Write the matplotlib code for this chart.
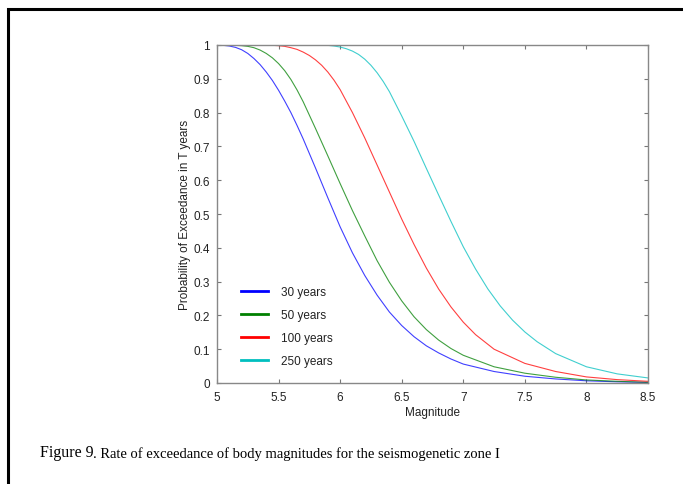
import matplotlib.pyplot as plt
from matplotlib.patches import Rectangle

# values (magnitude -> probability of exceedance)
mag_30 = [5.0, 5.05, 5.1, 5.15, 5.2, 5.25, 5.3, 5.35, 5.4, 5.45, 5.5, 5.55, 5.6,
          5.65, 5.7, 5.8, 5.9, 6.0, 6.1, 6.2, 6.3, 6.4, 6.5, 6.6, 6.7, 6.8, 6.9,
          7.0, 7.25, 7.5, 7.75, 8.0, 8.25, 8.5]
prob_30 = [1.0, 0.999, 0.997, 0.993, 0.986, 0.975, 0.96, 0.942, 0.92, 0.895,
           0.866, 0.834, 0.80, 0.762, 0.722, 0.636, 0.548, 0.462, 0.385, 0.318,
           0.26, 0.21, 0.17, 0.137, 0.11, 0.089, 0.071, 0.056, 0.034, 0.02,
           0.012, 0.0065, 0.0035, 0.0015]

mag_50 = [5.0, 5.1, 5.2, 5.25, 5.3, 5.35, 5.4, 5.45, 5.5, 5.55, 5.6, 5.65, 5.7,
          5.8, 5.9, 6.0, 6.1, 6.2, 6.3, 6.4, 6.5, 6.6, 6.7, 6.8, 6.9, 7.0, 7.25,
          7.5, 7.75, 8.0, 8.25, 8.5]
prob_50 = [1.0, 1.0, 0.998, 0.996, 0.992, 0.985, 0.975, 0.962, 0.945, 0.924,
           0.898, 0.867, 0.832, 0.753, 0.672, 0.59, 0.51, 0.435, 0.362, 0.298,
           0.243, 0.196, 0.158, 0.127, 0.102, 0.082, 0.048, 0.029, 0.017, 0.009,
           0.005, 0.002]

mag_100 = [5.0, 5.4, 5.5, 5.55, 5.6, 5.65, 5.7, 5.75, 5.8, 5.85, 5.9, 5.95, 6.0,
           6.1, 6.2, 6.3, 6.4, 6.5, 6.6, 6.7, 6.8, 6.9, 7.0, 7.1, 7.25, 7.5,
           7.75, 8.0, 8.25, 8.5]
prob_100 = [1.0, 1.0, 0.998, 0.996, 0.992, 0.987, 0.979, 0.969, 0.956, 0.94,
            0.92, 0.896, 0.868, 0.80, 0.725, 0.645, 0.565, 0.485, 0.41, 0.34,
            0.278, 0.225, 0.18, 0.143, 0.1, 0.058, 0.034, 0.018, 0.01, 0.005]

mag_250 = [5.0, 5.8, 5.9, 5.95, 6.0, 6.05, 6.1, 6.15, 6.2, 6.25, 6.3, 6.35, 6.4,
           6.5, 6.6, 6.7, 6.8, 6.9, 7.0, 7.1, 7.2, 7.3, 7.4, 7.5, 7.6, 7.75,
           8.0, 8.25, 8.5]
prob_250 = [1.0, 1.0, 0.999, 0.997, 0.994, 0.989, 0.982, 0.972, 0.958, 0.94,
            0.918, 0.892, 0.862, 0.79, 0.715, 0.635, 0.556, 0.478, 0.403, 0.337,
            0.278, 0.228, 0.186, 0.151, 0.122, 0.087, 0.048, 0.027, 0.015]

labels = ["30 years", "50 years", "100 years", "250 years"]
colors = ["#0000ff", "#008000", "#ff0000", "#00bfbf"]

x_ticks = [5, 5.5, 6, 6.5, 7, 7.5, 8, 8.5]
x_tick_labels = ["5", "5.5", "6", "6.5", "7", "7.5", "8", "8.5"]
y_ticks = [0, 0.1, 0.2, 0.3, 0.4, 0.5, 0.6, 0.7, 0.8, 0.9, 1]
y_tick_labels = ["0", "0.1", "0.2", "0.3", "0.4", "0.5", "0.6", "0.7", "0.8", "0.9", "1"]

plt.rcParams["font.family"] = ["Liberation Sans", "DejaVu Sans"]

fig = plt.figure(figsize=(6.83, 4.85), dpi=100)
ax = fig.add_axes([217 / 683, 101 / 485, 431 / 683, 338 / 485])

series = [(mag_30, prob_30), (mag_50, prob_50), (mag_100, prob_100), (mag_250, prob_250)]
for (m, p), lab, col in zip(series, labels, colors):
    ax.plot(m, p, color=col, lw=0.8, alpha=0.75, label=lab)

ax.set_xlim(5, 8.5)
ax.set_ylim(0, 1)
ax.set_xticks(x_ticks)
ax.set_xticklabels(x_tick_labels)
ax.set_yticks(y_ticks)
ax.set_yticklabels(y_tick_labels)
ax.tick_params(direction="in", top=True, right=True, length=3, width=0.8,
               color="#777777", labelsize=8.5, labelcolor="#222222")
ax.tick_params(axis="x", pad=6)
ax.tick_params(axis="y", pad=5)
for s in ax.spines.values():
    s.set_color("#888888")
    s.set_linewidth(1.0)

ax.set_xlabel("Magnitude", fontsize=8.5, color="#222222", labelpad=2)
ax.set_ylabel("Probability of Exceedance in T years", fontsize=8.5, color="#222222", labelpad=1.5)

leg = ax.legend(loc="upper left", bbox_to_anchor=(0.03, 0.318), frameon=False,
                fontsize=8.5, handlelength=2.3, handletextpad=1.1, labelspacing=0.92,
                labelcolor="#222222")
for ln in leg.get_lines():
    ln.set_linewidth(2.0)
    ln.set_alpha(1.0)

# page frame around the figure
fig.patches.append(Rectangle((7.5 / 683, -0.05), 1.1, (485 - 9.5) / 485 + 0.05,
                             transform=fig.transFigure, fill=False,
                             edgecolor="black", lw=2.2))

fig.text(40 / 683, 1 - 453 / 485, "Figure 9", fontsize=11.5,
         family="Liberation Serif", va="center", ha="left")
fig.text(93 / 683, 1 - 454 / 485, ". Rate of exceedance of body magnitudes for the seismogenetic zone I",
         fontsize=10.5, family="Liberation Serif", va="center", ha="left")

fig.savefig("out.png", dpi=100)
